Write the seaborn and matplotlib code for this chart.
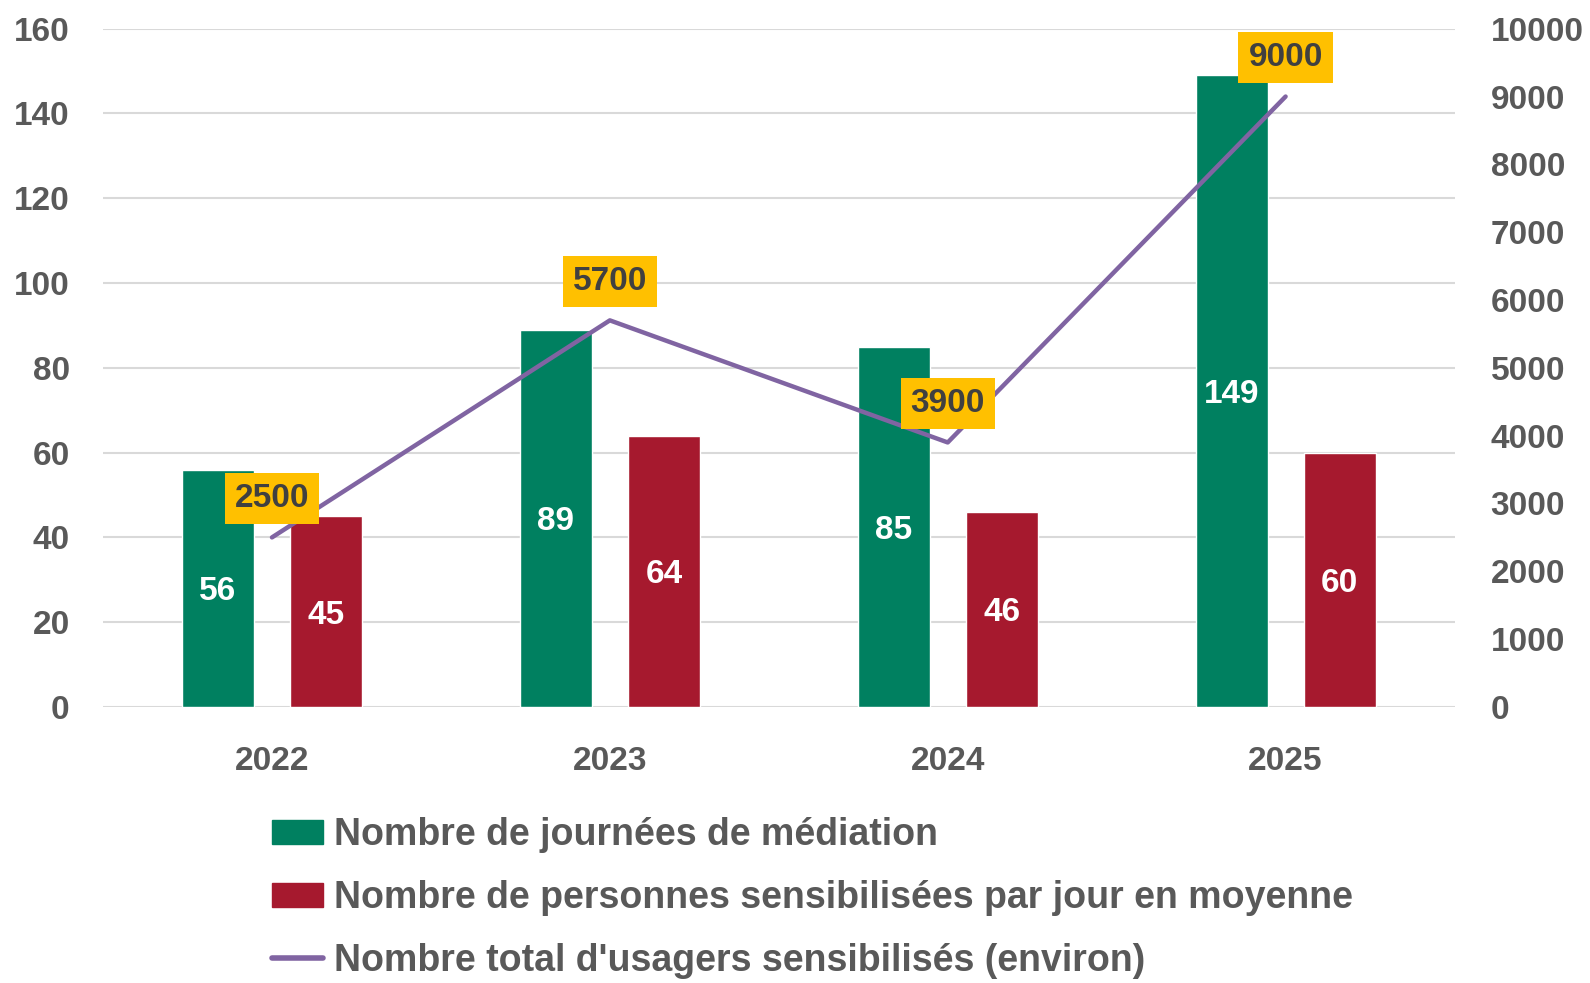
import pandas as pd
import numpy as np
import matplotlib.pyplot as plt
import seaborn as sns

# Data
years = ['2022', '2023', '2024', '2025']
journees = [56, 89, 85, 149]
personnes_par_jour = [45, 64, 46, 60]
total_usagers = [2500, 5700, 3900, 9000]

labels = [
    'Nombre de journées de médiation',
    'Nombre de personnes sensibilisées par jour en moyenne',
    "Nombre total d'usagers sensibilisés (environ)",
]

GREEN = '#008060'
RED = '#A6192E'
PURPLE = '#8064A2'
YELLOW = '#FFC000'
GREY_TXT = '#595959'

sns.set_theme(style='white')
plt.rcParams['font.family'] = ['Liberation Sans', 'DejaVu Sans']

bars = pd.DataFrame({
    'Année': years * 2,
    'Valeur': journees + personnes_par_jour,
    'Série': [labels[0]] * len(years) + [labels[1]] * len(years),
})
line = pd.DataFrame({'pos': np.arange(len(years)), 'Total': total_usagers})

fig = plt.figure(figsize=(15.9, 9.83), dpi=100)
ax = fig.add_axes([0.0648, 0.2808, 0.850, 0.690])

sns.barplot(data=bars, x='Année', y='Valeur', hue='Série', order=years,
            palette=[GREEN, RED], width=0.64, gap=0.334, ax=ax,
            saturation=1, legend=False)

# white value labels in the middle of each bar
for cont in ax.containers:
    for t in ax.bar_label(cont, label_type='center', color='white',
                          fontsize=24, fontweight='bold'):
        t.set_va('center_baseline')

ax.set_ylim(0, 160)
ax.set_yticks(range(0, 161, 20))
ax.set_xlim(-0.5, 3.5)
ax.set_xlabel('')
ax.set_ylabel('')
ax.grid(axis='y', color='#D9D9D9', linewidth=1.5)
ax.set_axisbelow(True)
for s in ax.spines.values():
    s.set_visible(False)
ax.tick_params(axis='y', length=0, pad=24, labelsize=24, labelcolor=GREY_TXT)
ax.tick_params(axis='x', length=0, pad=28, labelsize=24, labelcolor=GREY_TXT)
for t in ax.get_xticklabels() + ax.get_yticklabels():
    t.set_fontweight('bold')

# total users line on the secondary axis
ax2 = ax.twinx()
sns.lineplot(data=line, x='pos', y='Total', color=PURPLE, linewidth=3.2,
             ax=ax2, label=labels[2], legend=False)
ax2.set_ylim(0, 10000)
ax2.set_yticks(range(0, 10001, 1000))
ax2.set_xlim(-0.5, 3.5)
ax2.set_ylabel('')
ax2.set_xlabel('')
for s in ax2.spines.values():
    s.set_visible(False)
ax2.tick_params(axis='y', length=0, pad=26, labelsize=24, labelcolor=GREY_TXT)
for t in ax2.get_yticklabels():
    t.set_fontweight('bold')

for i, v in enumerate(total_usagers):
    ax2.annotate(f'{v}', (i, v), xytext=(0, 28), textcoords='offset points',
                 ha='center', va='center', fontsize=24, fontweight='bold',
                 color='#404040',
                 bbox=dict(boxstyle='square,pad=0.3', fc=YELLOW, ec='none'))

handles = [
    plt.Rectangle((0, 0), 1, 1, color=GREEN),
    plt.Rectangle((0, 0), 1, 1, color=RED),
    plt.Line2D([0], [0], color=PURPLE, linewidth=4),
]
fig.legend(handles, labels, loc='upper left', bbox_to_anchor=(0.171, 0.169),
           frameon=False, labelcolor=GREY_TXT,
           prop={'weight': 'bold', 'size': 27},
           handlelength=1.35, handleheight=0.6, handletextpad=0.3,
           labelspacing=0.72, borderaxespad=0, borderpad=0)

fig.savefig('out.png', dpi=100)
